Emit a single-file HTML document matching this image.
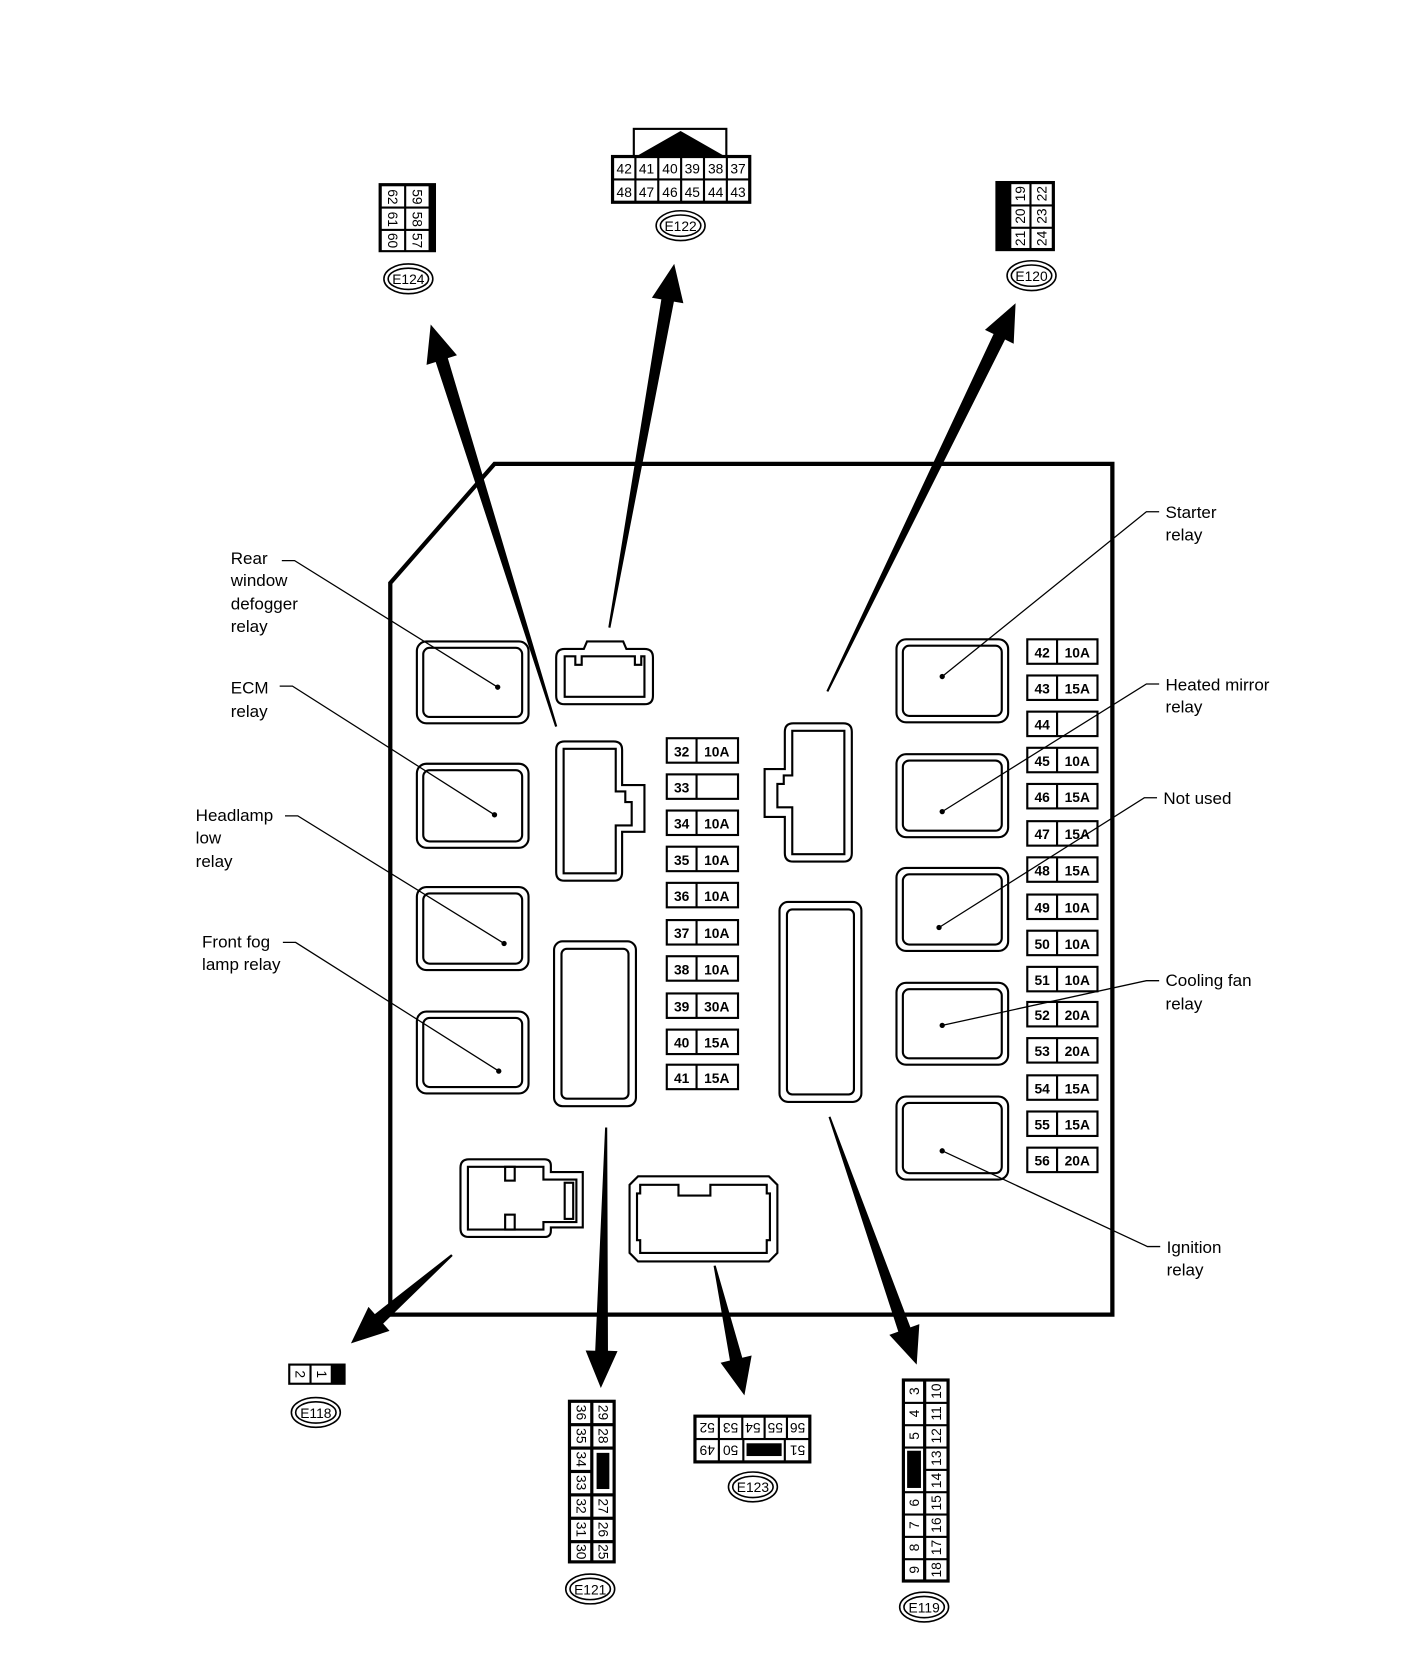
<!DOCTYPE html>
<html><head><meta charset="utf-8"><style>
html,body{margin:0;padding:0;background:#fff;}
svg{display:block;}
text{font-family:"Liberation Sans",Arial,sans-serif;fill:#000;}
.l{font-size:16px;}
.f{font-size:13px;font-weight:bold;text-anchor:middle;}
.c{font-size:13px;text-anchor:middle;}
</style></head><body>
<svg width="1408" height="1670" viewBox="0 0 1324 1570" xmlns="http://www.w3.org/2000/svg">
<rect x="0" y="0" width="1324" height="1570" fill="#fff"/>
<!-- main box -->
<polygon points="367,548 465,436 1046,436 1046,1236 367,1236" fill="none" stroke="#000" stroke-width="4"/>

<g fill="none" stroke="#000" stroke-width="2">
<!-- left relays -->
<rect x="392" y="603" width="105" height="77" rx="9"/><rect x="398" y="609" width="93" height="65" rx="6"/>
<rect x="392" y="718" width="105" height="79" rx="9"/><rect x="398" y="724" width="93" height="67" rx="6"/>
<rect x="392" y="834" width="105" height="78" rx="9"/><rect x="398" y="840" width="93" height="66" rx="6"/>
<rect x="392" y="951" width="105" height="77" rx="9"/><rect x="398" y="957" width="93" height="65" rx="6"/>
<!-- right relays -->
<rect x="843" y="601" width="105" height="78" rx="9"/><rect x="849" y="607" width="93" height="66" rx="6"/>
<rect x="843" y="709" width="105" height="78" rx="9"/><rect x="849" y="715" width="93" height="66" rx="6"/>
<rect x="843" y="816" width="105" height="78" rx="9"/><rect x="849" y="822" width="93" height="66" rx="6"/>
<rect x="843" y="924" width="105" height="77" rx="9"/><rect x="849" y="930" width="93" height="65" rx="6"/>
<rect x="843" y="1031" width="105" height="78" rx="9"/><rect x="849" y="1037" width="93" height="66" rx="6"/>
<!-- long fuse blocks -->
<rect x="521" y="885" width="77" height="155" rx="8"/><rect x="528" y="892" width="63" height="141" rx="5"/>
<rect x="733" y="848" width="77" height="188" rx="8"/><rect x="740" y="855" width="63" height="174" rx="5"/>
<!-- top small connector -->
<path d="M523,618 q0,-8 8,-8 h18 l3,-7 h34 l3,7 h17 q8,0 8,8 v36 q0,8 -8,8 h-75 q-8,0 -8,-8 z"/>
<path d="M531,617 h10 v8 h6 v-8 h50 v8 h6 v-8 h3 v38 h-75 z"/>
<!-- left-center connector -->
<path d="M523,705 q0,-8 8,-8 h46 q8,0 8,8 v33 h21 v44 h-21 v38 q0,8 -8,8 h-46 q-8,0 -8,-8 z"/>
<path d="M530,704 h49 v40 h9 v10 h6 v22 h-15 v45 h-49 z"/>
<!-- right connector -->
<path d="M801,688 q0,-8 -8,-8 h-47 q-8,0 -8,8 v35 h-19 v45 h19 v34 q0,8 8,8 h47 q8,0 8,-8 z"/>
<path d="M794,687 h-49 v42 h-8 v8 h-6 v22 h14 v44 h49 z"/>
<!-- bottom-left connector -->
<path d="M433,1098 q0,-8 8,-8 h71 q6,0 6,6 v6 h30 v52 h-30 v3 q0,6 -6,6 h-71 q-8,0 -8,-8 z"/>
<path d="M440,1097 h71 v12 h31 v40 h-31 v7 h-71 z"/>
<rect x="475" y="1097" width="9" height="13"/><rect x="475" y="1142" width="9" height="14"/><rect x="531" y="1112" width="8" height="34"/>
<!-- bottom-center connector -->
<path d="M600,1106 h123 l8,8 v64 l-8,8 h-123 l-8,-8 v-64 z"/>
<path d="M602,1114 h36 v10 h30 v-10 h53 v8 h3 v44 h-3 v12 h-119 v-12 h-3 v-44 h3 z"/>
</g>
<!-- fuses center -->
<g fill="none" stroke="#000" stroke-width="2">
<rect x="627" y="694" width="67" height="23"/><line x1="655" y1="694" x2="655" y2="717"/>
<rect x="627" y="728" width="67" height="23"/><line x1="655" y1="728" x2="655" y2="751"/>
<rect x="627" y="762" width="67" height="23"/><line x1="655" y1="762" x2="655" y2="785"/>
<rect x="627" y="796" width="67" height="23"/><line x1="655" y1="796" x2="655" y2="819"/>
<rect x="627" y="830" width="67" height="23"/><line x1="655" y1="830" x2="655" y2="853"/>
<rect x="627" y="865" width="67" height="23"/><line x1="655" y1="865" x2="655" y2="888"/>
<rect x="627" y="899" width="67" height="23"/><line x1="655" y1="899" x2="655" y2="922"/>
<rect x="627" y="934" width="67" height="23"/><line x1="655" y1="934" x2="655" y2="957"/>
<rect x="627" y="968" width="67" height="23"/><line x1="655" y1="968" x2="655" y2="991"/>
<rect x="627" y="1001" width="67" height="23"/><line x1="655" y1="1001" x2="655" y2="1024"/>
</g>
<g class="f">
<text x="641" y="711" class="f">32</text><text x="674" y="711" class="f">10A</text>
<text x="641" y="745" class="f">33</text>
<text x="641" y="779" class="f">34</text><text x="674" y="779" class="f">10A</text>
<text x="641" y="813" class="f">35</text><text x="674" y="813" class="f">10A</text>
<text x="641" y="847" class="f">36</text><text x="674" y="847" class="f">10A</text>
<text x="641" y="882" class="f">37</text><text x="674" y="882" class="f">10A</text>
<text x="641" y="916" class="f">38</text><text x="674" y="916" class="f">10A</text>
<text x="641" y="951" class="f">39</text><text x="674" y="951" class="f">30A</text>
<text x="641" y="985" class="f">40</text><text x="674" y="985" class="f">15A</text>
<text x="641" y="1018" class="f">41</text><text x="674" y="1018" class="f">15A</text>
</g>
<!-- fuses right -->
<g fill="none" stroke="#000" stroke-width="2">
<rect x="966" y="601" width="66" height="23"/><line x1="994" y1="601" x2="994" y2="624"/>
<rect x="966" y="635" width="66" height="23"/><line x1="994" y1="635" x2="994" y2="658"/>
<rect x="966" y="669" width="66" height="23"/><line x1="994" y1="669" x2="994" y2="692"/>
<rect x="966" y="703" width="66" height="23"/><line x1="994" y1="703" x2="994" y2="726"/>
<rect x="966" y="737" width="66" height="23"/><line x1="994" y1="737" x2="994" y2="760"/>
<rect x="966" y="772" width="66" height="23"/><line x1="994" y1="772" x2="994" y2="795"/>
<rect x="966" y="806" width="66" height="23"/><line x1="994" y1="806" x2="994" y2="829"/>
<rect x="966" y="841" width="66" height="23"/><line x1="994" y1="841" x2="994" y2="864"/>
<rect x="966" y="875" width="66" height="23"/><line x1="994" y1="875" x2="994" y2="898"/>
<rect x="966" y="909" width="66" height="23"/><line x1="994" y1="909" x2="994" y2="932"/>
<rect x="966" y="942" width="66" height="23"/><line x1="994" y1="942" x2="994" y2="965"/>
<rect x="966" y="976" width="66" height="23"/><line x1="994" y1="976" x2="994" y2="999"/>
<rect x="966" y="1011" width="66" height="23"/><line x1="994" y1="1011" x2="994" y2="1034"/>
<rect x="966" y="1045" width="66" height="23"/><line x1="994" y1="1045" x2="994" y2="1068"/>
<rect x="966" y="1079" width="66" height="23"/><line x1="994" y1="1079" x2="994" y2="1102"/>
</g>
<g>
<text x="980" y="618" class="f">42</text><text x="1013" y="618" class="f">10A</text>
<text x="980" y="652" class="f">43</text><text x="1013" y="652" class="f">15A</text>
<text x="980" y="686" class="f">44</text>
<text x="980" y="720" class="f">45</text><text x="1013" y="720" class="f">10A</text>
<text x="980" y="754" class="f">46</text><text x="1013" y="754" class="f">15A</text>
<text x="980" y="789" class="f">47</text><text x="1013" y="789" class="f">15A</text>
<text x="980" y="823" class="f">48</text><text x="1013" y="823" class="f">15A</text>
<text x="980" y="858" class="f">49</text><text x="1013" y="858" class="f">10A</text>
<text x="980" y="892" class="f">50</text><text x="1013" y="892" class="f">10A</text>
<text x="980" y="926" class="f">51</text><text x="1013" y="926" class="f">10A</text>
<text x="980" y="959" class="f">52</text><text x="1013" y="959" class="f">20A</text>
<text x="980" y="993" class="f">53</text><text x="1013" y="993" class="f">20A</text>
<text x="980" y="1028" class="f">54</text><text x="1013" y="1028" class="f">15A</text>
<text x="980" y="1062" class="f">55</text><text x="1013" y="1062" class="f">15A</text>
<text x="980" y="1096" class="f">56</text><text x="1013" y="1096" class="f">20A</text>
</g>

<!-- leader lines -->
<g fill="none" stroke="#000" stroke-width="1.2">
<polyline points="265,527 277,527 468,646"/>
<polyline points="263,645 275,645 465,766"/>
<polyline points="268,767 280,767 474,887"/>
<polyline points="266,886 278,886 469,1007"/>
<polyline points="1090,481 1078,481 886,636"/>
<polyline points="1090,643 1078,643 886,763"/>
<polyline points="1088,750 1076,750 883,872"/>
<polyline points="1090,922 1078,922 886,964"/>
<polyline points="1091,1172 1079,1172 886,1082"/>
</g>
<g fill="#000">
<circle cx="468" cy="646" r="2.5"/><circle cx="465" cy="766" r="2.5"/><circle cx="474" cy="887" r="2.5"/><circle cx="469" cy="1007" r="2.5"/>
<circle cx="886" cy="636" r="2.5"/><circle cx="886" cy="763" r="2.5"/><circle cx="883" cy="872" r="2.5"/><circle cx="886" cy="964" r="2.5"/><circle cx="886" cy="1082" r="2.5"/>
</g>
<g class="l">
<text x="217" y="530" class="l">Rear</text><text x="217" y="551" class="l">window</text><text x="217" y="573" class="l">defogger</text><text x="217" y="594" class="l">relay</text>
<text x="217" y="652" class="l">ECM</text><text x="217" y="674" class="l">relay</text>
<text x="184" y="772" class="l">Headlamp</text><text x="184" y="793" class="l">low</text><text x="184" y="815" class="l">relay</text>
<text x="190" y="891" class="l">Front fog</text><text x="190" y="912" class="l">lamp relay</text>
<text x="1096" y="487" class="l">Starter</text><text x="1096" y="508" class="l">relay</text>
<text x="1096" y="649" class="l">Heated mirror</text><text x="1096" y="670" class="l">relay</text>
<text x="1094" y="756" class="l">Not used</text>
<text x="1096" y="927" class="l">Cooling fan</text><text x="1096" y="949" class="l">relay</text>
<text x="1097" y="1178" class="l">Ignition</text><text x="1097" y="1199" class="l">relay</text>
</g>

<!-- arrows -->
<g fill="#000">
<polygon points="524,682.7 421.1,336.6 429.7,333.9 405,305 401.1,342.9 409.7,340.2 522,683.3"/>
<polygon points="574,590.2 633.7,283.5 642.6,285 634,248 613,279.8 621.9,281.3 572,589.8"/>
<polygon points="778.9,650.4 945.1,319.1 953.2,323 955,285 926.2,310 934.3,313.9 777.1,649.6"/>
<polygon points="425.7,1180.8 360.3,1244.5 366.3,1251.3 330,1263 346.5,1228.7 352.5,1235.5 424.3,1179.2"/>
<polygon points="571,1060 571.7,1270 580.7,1270.3 565,1305 550.7,1269.7 559.7,1270 569,1060"/>
<polygon points="673,1189.8 698,1276.6 706.8,1274.5 700,1312 677.6,1281.3 686.4,1279.2 671,1190.2"/>
<polygon points="780.9,1049.7 856.1,1248 864.5,1245 862,1283 836.3,1255 844.7,1252 779.1,1050.3"/>
</g>

<!-- E124 -->
<rect x="356" y="172" width="54" height="65" fill="#000"/>
<g fill="#fff"><rect x="359" y="175" width="21" height="19"/><rect x="382" y="175" width="21" height="19"/>
<rect x="359" y="196" width="21" height="19"/><rect x="382" y="196" width="21" height="19"/>
<rect x="359" y="217" width="21" height="18"/><rect x="382" y="217" width="21" height="18"/></g>
<g class="c">
<text class="c" transform="translate(365,185) rotate(90)">62</text><text class="c" transform="translate(388,185) rotate(90)">59</text>
<text class="c" transform="translate(365,206) rotate(90)">61</text><text class="c" transform="translate(388,206) rotate(90)">58</text>
<text class="c" transform="translate(365,226) rotate(90)">60</text><text class="c" transform="translate(388,226) rotate(90)">57</text>
</g>
<!-- E120 -->
<rect x="936" y="170" width="56" height="66" fill="#000"/>
<g fill="#fff"><rect x="951" y="173" width="17" height="19"/><rect x="970" y="173" width="19" height="19"/>
<rect x="951" y="194" width="17" height="19"/><rect x="970" y="194" width="19" height="19"/>
<rect x="951" y="215" width="17" height="18"/><rect x="970" y="215" width="19" height="18"/></g>
<text class="c" transform="translate(964,182) rotate(-90)">19</text><text class="c" transform="translate(984,182) rotate(-90)">22</text>
<text class="c" transform="translate(964,203) rotate(-90)">20</text><text class="c" transform="translate(984,203) rotate(-90)">23</text>
<text class="c" transform="translate(964,224) rotate(-90)">21</text><text class="c" transform="translate(984,224) rotate(-90)">24</text>
<!-- E122 -->
<rect x="596" y="121" width="87" height="26" fill="#fff" stroke="#000" stroke-width="2"/>
<polygon points="598,147 640,123 682,147" fill="#000"/>
<rect x="576" y="147" width="129" height="43" fill="#fff" stroke="#000" stroke-width="3"/>
<g stroke="#000" stroke-width="2"><line x1="576" y1="168.5" x2="705" y2="168.5"/>
<line x1="597.5" y1="147" x2="597.5" y2="190"/><line x1="619" y1="147" x2="619" y2="190"/><line x1="640.5" y1="147" x2="640.5" y2="190"/><line x1="662" y1="147" x2="662" y2="190"/><line x1="683.5" y1="147" x2="683.5" y2="190"/></g>
<g class="c"><text class="c" x="587" y="163">42</text><text class="c" x="608" y="163">41</text><text class="c" x="630" y="163">40</text><text class="c" x="651" y="163">39</text><text class="c" x="673" y="163">38</text><text class="c" x="694" y="163">37</text>
<text class="c" x="587" y="185">48</text><text class="c" x="608" y="185">47</text><text class="c" x="630" y="185">46</text><text class="c" x="651" y="185">45</text><text class="c" x="673" y="185">44</text><text class="c" x="694" y="185">43</text></g>
<!-- E118 -->
<rect x="271" y="1282" width="54" height="20" fill="#000"/>
<rect x="273" y="1284" width="18" height="16" fill="#fff"/><rect x="293" y="1284" width="18" height="16" fill="#fff"/>
<text class="c" transform="translate(278,1292) rotate(90)">2</text><text class="c" transform="translate(298,1292) rotate(90)">1</text>
<!-- E121 -->
<rect x="534" y="1316" width="45" height="154" fill="#000"/>
<g fill="#fff">
<rect x="537" y="1319" width="18" height="19"/><rect x="558" y="1319" width="18" height="19"/>
<rect x="537" y="1341" width="18" height="19"/><rect x="558" y="1341" width="18" height="19"/>
<rect x="537" y="1363" width="18" height="19"/>
<rect x="537" y="1385" width="18" height="19"/>
<rect x="537" y="1407" width="18" height="19"/><rect x="558" y="1407" width="18" height="19"/>
<rect x="537" y="1429" width="18" height="19"/><rect x="558" y="1429" width="18" height="19"/>
<rect x="537" y="1451" width="18" height="16"/><rect x="558" y="1451" width="18" height="16"/>
<rect x="558" y="1363" width="18" height="41"/>
</g>
<rect x="561" y="1366" width="12" height="34" fill="#000"/>
<g>
<text class="c" transform="translate(542,1328) rotate(90)">36</text><text class="c" transform="translate(563,1328) rotate(90)">29</text>
<text class="c" transform="translate(542,1350) rotate(90)">35</text><text class="c" transform="translate(563,1350) rotate(90)">28</text>
<text class="c" transform="translate(542,1372) rotate(90)">34</text>
<text class="c" transform="translate(542,1394) rotate(90)">33</text>
<text class="c" transform="translate(542,1416) rotate(90)">32</text><text class="c" transform="translate(563,1416) rotate(90)">27</text>
<text class="c" transform="translate(542,1438) rotate(90)">31</text><text class="c" transform="translate(563,1438) rotate(90)">26</text>
<text class="c" transform="translate(542,1459) rotate(90)">30</text><text class="c" transform="translate(563,1459) rotate(90)">25</text>
</g>
<!-- E123 -->
<rect x="652" y="1330" width="111" height="46" fill="#000"/>
<g fill="#fff">
<rect x="655" y="1333" width="20" height="19"/><rect x="677" y="1333" width="20" height="19"/><rect x="699" y="1333" width="19" height="19"/><rect x="720" y="1333" width="19" height="19"/><rect x="741" y="1333" width="19" height="19"/>
<rect x="655" y="1354" width="20" height="19"/><rect x="677" y="1354" width="21" height="19"/><rect x="700" y="1354" width="37" height="19"/><rect x="739" y="1354" width="21" height="19"/>
</g>
<rect x="702" y="1357" width="33" height="12" fill="#000"/>
<g>
<text class="c" transform="translate(665,1338) rotate(180)">52</text><text class="c" transform="translate(687,1338) rotate(180)">53</text><text class="c" transform="translate(708,1338) rotate(180)">54</text><text class="c" transform="translate(729,1338) rotate(180)">55</text><text class="c" transform="translate(750,1338) rotate(180)">56</text>
<text class="c" transform="translate(665,1359) rotate(180)">49</text><text class="c" transform="translate(687,1359) rotate(180)">50</text><text class="c" transform="translate(750,1359) rotate(180)">51</text>
</g>
<!-- E119 -->
<rect x="848" y="1296" width="45" height="192" fill="#000"/>
<g fill="#fff">
<rect x="851" y="1299" width="17" height="19"/><rect x="871" y="1299" width="19" height="19"/>
<rect x="851" y="1320" width="17" height="19"/><rect x="871" y="1320" width="19" height="19"/>
<rect x="851" y="1341" width="17" height="19"/><rect x="871" y="1341" width="19" height="19"/>
<rect x="851" y="1362" width="17" height="40"/><rect x="871" y="1362" width="19" height="19"/>
<rect x="871" y="1383" width="19" height="19"/>
<rect x="851" y="1404" width="17" height="19"/><rect x="871" y="1404" width="19" height="19"/>
<rect x="851" y="1425" width="17" height="19"/><rect x="871" y="1425" width="19" height="19"/>
<rect x="851" y="1446" width="17" height="19"/><rect x="871" y="1446" width="19" height="19"/>
<rect x="851" y="1467" width="17" height="18"/><rect x="871" y="1467" width="19" height="18"/>
</g>
<rect x="853" y="1364" width="13" height="35" fill="#000"/>
<g>
<text class="c" transform="translate(864,1308) rotate(-90)">3</text><text class="c" transform="translate(885,1308) rotate(-90)">10</text>
<text class="c" transform="translate(864,1329) rotate(-90)">4</text><text class="c" transform="translate(885,1329) rotate(-90)">11</text>
<text class="c" transform="translate(864,1350) rotate(-90)">5</text><text class="c" transform="translate(885,1350) rotate(-90)">12</text>
<text class="c" transform="translate(885,1371) rotate(-90)">13</text>
<text class="c" transform="translate(885,1392) rotate(-90)">14</text>
<text class="c" transform="translate(864,1413) rotate(-90)">6</text><text class="c" transform="translate(885,1413) rotate(-90)">15</text>
<text class="c" transform="translate(864,1434) rotate(-90)">7</text><text class="c" transform="translate(885,1434) rotate(-90)">16</text>
<text class="c" transform="translate(864,1455) rotate(-90)">8</text><text class="c" transform="translate(885,1455) rotate(-90)">17</text>
<text class="c" transform="translate(864,1476) rotate(-90)">9</text><text class="c" transform="translate(885,1476) rotate(-90)">18</text>
</g>

<!-- ovals -->
<g fill="none" stroke="#000" stroke-width="1.5">
<ellipse cx="384" cy="262" rx="23" ry="14"/><ellipse cx="384" cy="262" rx="19" ry="10"/>
<ellipse cx="640" cy="212" rx="23" ry="14"/><ellipse cx="640" cy="212" rx="19" ry="10"/>
<ellipse cx="970" cy="259" rx="23" ry="14"/><ellipse cx="970" cy="259" rx="19" ry="10"/>
<ellipse cx="297" cy="1328" rx="23" ry="14"/><ellipse cx="297" cy="1328" rx="19" ry="10"/>
<ellipse cx="555" cy="1494" rx="23" ry="14"/><ellipse cx="555" cy="1494" rx="19" ry="10"/>
<ellipse cx="708" cy="1398" rx="23" ry="14"/><ellipse cx="708" cy="1398" rx="19" ry="10"/>
<ellipse cx="869" cy="1511" rx="23" ry="14"/><ellipse cx="869" cy="1511" rx="19" ry="10"/>
</g>
<g>
<text class="c" x="384" y="267">E124</text>
<text class="c" x="640" y="217">E122</text>
<text class="c" x="970" y="264">E120</text>
<text class="c" x="297" y="1333">E118</text>
<text class="c" x="555" y="1499">E121</text>
<text class="c" x="708" y="1403">E123</text>
<text class="c" x="869" y="1516">E119</text>
</g>
</svg>
</body></html>
